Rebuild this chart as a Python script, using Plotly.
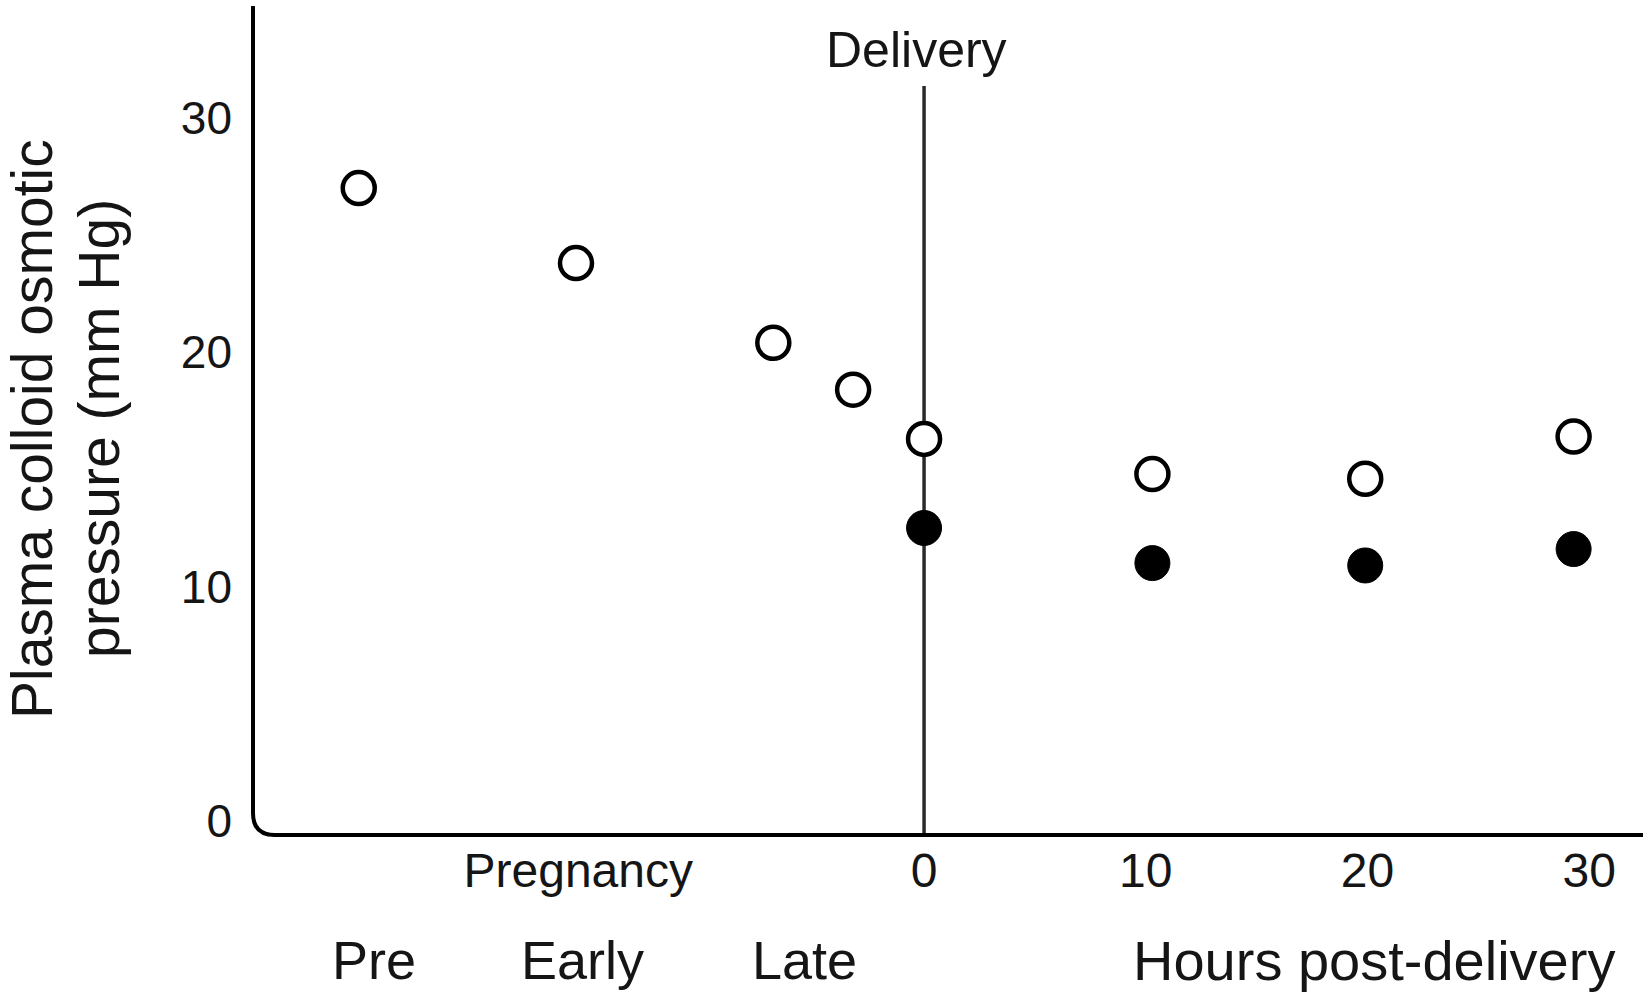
import plotly.graph_objects as go

# ---- data ----
# x position on an "hours" scale (pregnancy stages placed left of delivery)
open_x = [-25.5, -15.7, -6.8, -3.2, 0, 10.3, 19.9, 29.3]
open_y = [27.0, 23.8, 20.4, 18.4, 16.3, 14.8, 14.6, 16.4]
filled_x = [0, 10.3, 19.9, 29.3]
filled_y = [12.5, 11.0, 10.9, 11.6]

hour_ticks = [0, 10, 20, 30]
hour_labels = ["0", "10", "20", "30"]
stage_x = [-24.8, -15.4, -5.4]
stage_labels = ["Pre", "Early", "Late"]
pregnancy_label_x = -15.6
hours_title_x = 20.3
y_ticks = [0, 10, 20, 30]

FONT = "Liberation Sans, Arial, Helvetica, sans-serif"
INK = "#151515"

fig = go.Figure()
fig.add_trace(go.Scatter(
    x=open_x, y=open_y, mode="markers",
    marker=dict(size=32, color="white", line=dict(color="black", width=4.5)),
    showlegend=False, cliponaxis=False))
fig.add_trace(go.Scatter(
    x=filled_x, y=filled_y, mode="markers",
    marker=dict(size=35, color="black", line=dict(color="black", width=1)),
    showlegend=False, cliponaxis=False))

X_RANGE = [-30.27, 32.43]
Y_RANGE = [-0.6, 34.77]

# delivery vertical line (drawn below markers)
fig.add_shape(type="line", xref="x", yref="paper", x0=0, x1=0, y0=0, y1=0.9035,
              line=dict(color="#2a2a2a", width=3.5), layer="below")

# axis frame with rounded corner
rx = 22 / 1390
ry = 22 / 829
fig.add_shape(type="path", xref="paper", yref="paper",
              path=f"M 0,1 L 0,{ry} Q 0,0 {rx},0 L 1,0",
              line=dict(color="black", width=4))

annotations = []
annotations.append(dict(text="Delivery", x=0, xref="x", y=0.947, yref="paper",
                        xshift=-8, showarrow=False, xanchor="center", yanchor="middle",
                        font=dict(size=50, family=FONT, color=INK)))
for sx, sl in zip(stage_x, stage_labels):
    annotations.append(dict(text=sl, x=sx, xref="x", y=-0.151, yref="paper",
                            showarrow=False, xanchor="center", yanchor="middle",
                            font=dict(size=54, family=FONT, color=INK)))
annotations.append(dict(text="Hours post-delivery", x=hours_title_x, xref="x", y=-0.151,
                        yref="paper", showarrow=False, xanchor="center", yanchor="middle",
                        font=dict(size=56, family=FONT, color=INK)))
annotations.append(dict(text="Plasma colloid osmotic", x=0, xref="paper", xshift=-221,
                        y=0.4897, yref="paper", textangle=-90, showarrow=False,
                        xanchor="center", yanchor="middle",
                        font=dict(size=57, family=FONT, color=INK)))
annotations.append(dict(text="pressure (mm Hg)", x=0, xref="paper", xshift=-154,
                        y=0.4897, yref="paper", textangle=-90, showarrow=False,
                        xanchor="center", yanchor="middle",
                        font=dict(size=57, family=FONT, color=INK)))

fig.update_layout(
    width=1650, height=1000,
    margin=dict(l=253, r=7, t=6, b=165),
    paper_bgcolor="white", plot_bgcolor="white",
    annotations=annotations,
    xaxis=dict(range=X_RANGE, showgrid=False, zeroline=False, showline=False,
               tickmode="array",
               tickvals=[pregnancy_label_x] + hour_ticks,
               ticktext=["Pregnancy"] + hour_labels,
               ticks="", ticklabelstandoff=3,
               tickfont=dict(size=48, family=FONT, color=INK)),
    yaxis=dict(range=Y_RANGE, showgrid=False, zeroline=False, showline=False,
               tickmode="array", tickvals=y_ticks,
               ticks="", ticklabelstandoff=20,
               tickfont=dict(size=46, family=FONT, color=INK)),
)

fig.write_html("out.html")
